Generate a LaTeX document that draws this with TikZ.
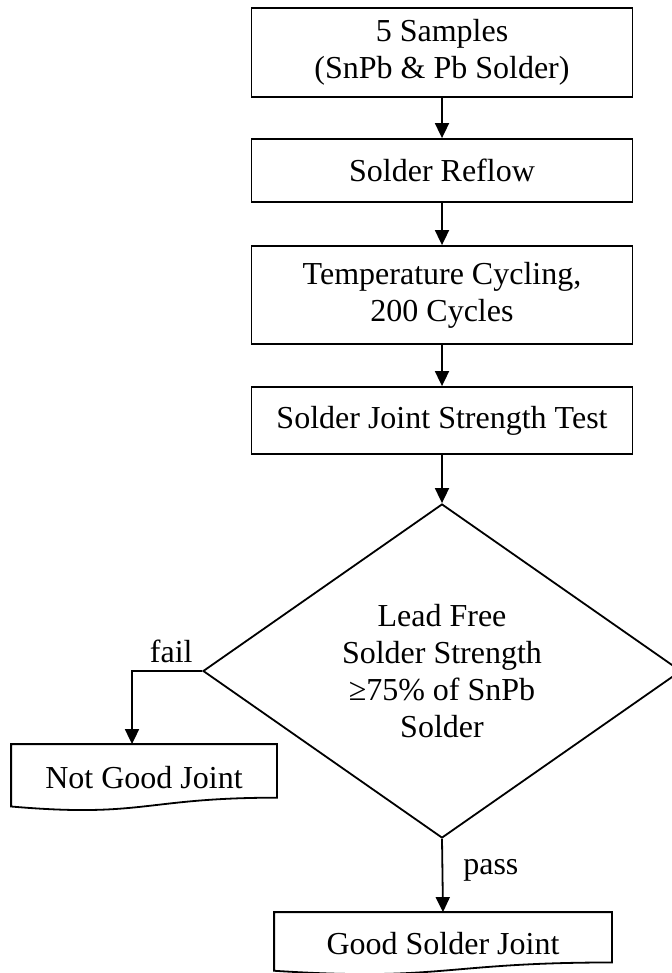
\documentclass[tikz,border=0pt]{standalone}
\usepackage{fontspec}
\setmainfont{Liberation Serif}
\usetikzlibrary{arrows.meta,shapes.geometric,calc,positioning}

\begin{document}
\begin{tikzpicture}
		[x=0.5pt, y=-0.5pt, font=\fontsize{16pt}{18.6pt}\selectfont, inner sep=0pt, line width=0.9pt,
		process/.style	= {rectangle, draw, align=center, minimum width=190.5pt},
		decision/.style	= {diamond, draw, align=center, aspect=1.42, minimum width=239pt, minimum height=167pt},
		docnode/.style	= {rectangle, draw=none, align=center},
		paths/.style	= {-{Triangle[width=7pt, length=7.5pt]}}]
		
		\useasboundingbox (0,0) rectangle (672,973);
		
		\node at (442, 52.5)	[process, minimum height=44.5pt]	(samples)	{5 Samples\\(SnPb \& Pb Solder)};
		\node at (442, 170.5)	[process, minimum height=31.5pt]	(reflow)	{Solder Reflow};
		\node at (442, 295)		[process, minimum height=49pt]		(cycling)	{Temperature Cycling,\\200 Cycles};
		\node at (442, 420.5)	[process, minimum height=33.5pt]	(test)		{Solder Joint Strength Test};
		
		\node at (442, 671)		[decision]	(decide)	{Lead Free\\Solder Strength\\≥75\% of SnPb\\Solder};
		
		\node at (144, 777.5)	[docnode, minimum width=132pt, minimum height=32.5pt]	(bad)	{Not Good Joint};
		\node at (443, 943.5)	[docnode, minimum width=168pt, minimum height=30.5pt]	(good)	{Good Solder Joint};
		
		\draw (bad.north west) -- (bad.north east) -- ($(bad.north east)!.802!(bad.south east)$)
			.. controls ($(bad.north)!.802!(bad.south)$) and ($(bad.north)!1.107!(bad.south)$) .. ($(bad.north west)!.934!(bad.south west)$) -- cycle;
		\draw (good.north west) -- (good.north east) -- ($(good.north east)!.802!(good.south east)$)
			.. controls ($(good.north)!.802!(good.south)$) and ($(good.north)!1.107!(good.south)$) .. ($(good.north west)!.934!(good.south west)$) -- cycle;
		
		\draw [paths] (samples.south) -- (reflow.north);
		\draw [paths] (reflow.south) -- (cycling.north);
		\draw [paths] (cycling.south) -- (test.north);
		\draw [paths] (test.south) -- (decide.north);
		
		\draw [paths] (decide.west) -| node[above=3.5pt, pos=.22] {fail} ([xshift=-6pt]bad.north);
		\draw [paths] (decide.south) -- node[right=10pt, pos=.43] {pass} (good.north);
		
\end{tikzpicture}
\end{document}
